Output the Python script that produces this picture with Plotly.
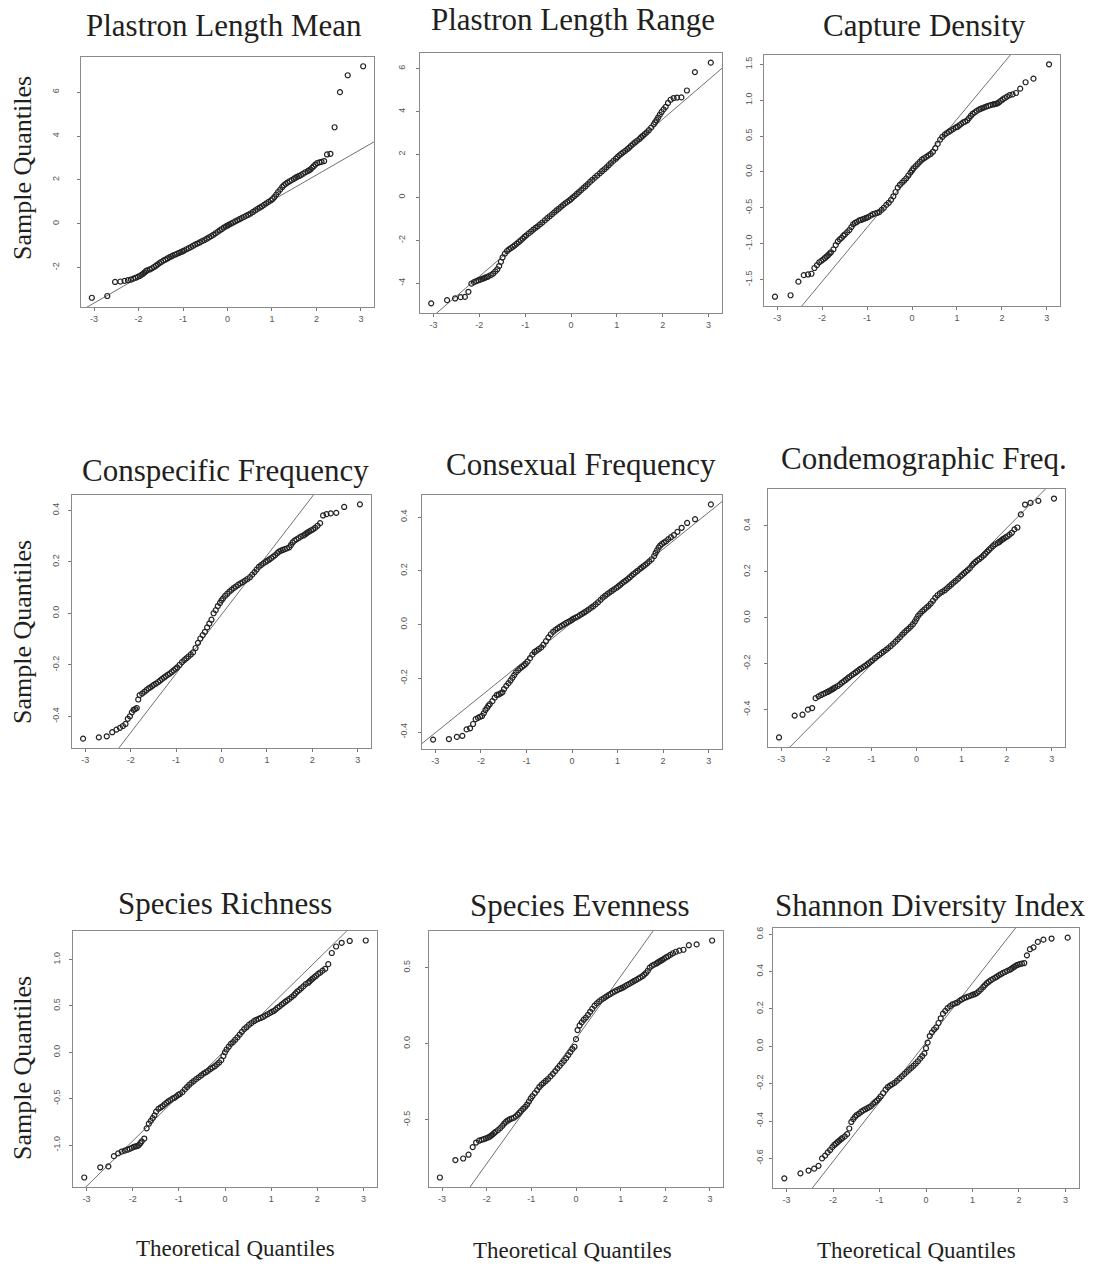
import plotly.graph_objects as go
from statistics import NormalDist
import numpy as np

# ---------------- data ----------------
N_OBS = 435
sample_ranks = [1, 2, 3, 4, 5, 6, 7, 8, 9, 10, 11, 12, 13, 14, 15, 16,
                18, 20, 22, 24, 26, 28, 30, 33, 36, 39, 42, 45, 48, 52, 56, 60, 64, 68,
                72, 78, 84, 90, 96, 102, 109, 116, 124, 132, 140, 148, 156, 164, 172, 180,
                188, 196, 204, 212,
                218,
                224, 232, 240, 248, 256, 264, 272, 280, 288, 296, 304, 312, 320, 327, 334,
                340, 346, 352, 358, 364, 368, 372, 376, 380, 384, 388, 391, 394, 397, 400,
                403, 406, 408, 410, 412, 414, 416, 418,
                420, 421, 422, 423, 424, 425, 426, 427, 428, 429, 430, 431, 432, 433, 434, 435]

panel_titles = ["Plastron Length Mean", "Plastron Length Range", "Capture Density",
                "Conspecific Frequency", "Consexual Frequency", "Condemographic Freq.",
                "Species Richness", "Species Evenness", "Shannon Diversity Index"]

plastron_length_mean = [
    -3.37, -3.29, -2.65, -2.63, -2.60, -2.57, -2.54, -2.50, -2.46, -2.42, -2.38, -2.33, -2.28, -2.22, -2.16, -2.12,
    -2.08, -2.03, -1.97, -1.91, -1.85, -1.79, -1.74, -1.68, -1.63, -1.58, -1.53, -1.49, -1.45, -1.41, -1.37, -1.33,
    -1.29, -1.26, -1.22, -1.16, -1.11, -1.06, -1.00, -0.95, -0.90, -0.85, -0.79, -0.74, -0.68, -0.62, -0.56, -0.50,
    -0.43, -0.37, -0.30, -0.24, -0.17, -0.12,
    -0.08,
    -0.04, 0.01, 0.06, 0.11, 0.16, 0.21, 0.26, 0.31, 0.36, 0.41, 0.47, 0.54, 0.61, 0.68, 0.74, 0.80,
    0.86, 0.93, 1.00, 1.07, 1.13, 1.22, 1.33, 1.45, 1.56, 1.68, 1.76, 1.82, 1.88, 1.94, 1.99, 2.05,
    2.10, 2.14, 2.18, 2.22, 2.28, 2.35,
    2.40, 2.44, 2.48, 2.55, 2.62, 2.70, 2.77, 2.80, 2.82, 2.86, 3.16, 3.19, 4.40, 6.00, 6.77, 7.18]

plastron_length_range = [
    -4.94, -4.79, -4.71, -4.65, -4.64, -4.40, -4.02, -3.95, -3.90, -3.86, -3.83, -3.80, -3.77, -3.74, -3.71, -3.68,
    -3.62, -3.55, -3.45, -3.35, -3.20, -3.00, -2.80, -2.62, -2.50, -2.42, -2.36, -2.30, -2.24, -2.16, -2.08, -2.00,
    -1.92, -1.84, -1.77, -1.68, -1.59, -1.50, -1.42, -1.35, -1.26, -1.17, -1.07, -0.97, -0.88, -0.79, -0.70, -0.61,
    -0.53, -0.44, -0.36, -0.28, -0.21, -0.14,
    -0.08,
    -0.01, 0.07, 0.16, 0.25, 0.34, 0.43, 0.52, 0.62, 0.72, 0.82, 0.92, 1.02, 1.12, 1.22, 1.31, 1.40,
    1.50, 1.60, 1.70, 1.80, 1.88, 1.96, 2.03, 2.10, 2.17, 2.25, 2.32, 2.40, 2.48, 2.56, 2.64, 2.72,
    2.80, 2.87, 2.95, 3.03, 3.13, 3.25,
    3.40, 3.50, 3.60, 3.72, 3.85, 3.98, 4.10, 4.22, 4.40, 4.55, 4.63, 4.65, 4.66, 4.98, 5.84, 6.28]

capture_density = [
    -1.74, -1.72, -1.53, -1.44, -1.43, -1.42, -1.34, -1.30, -1.26, -1.24, -1.22, -1.20, -1.18, -1.16, -1.14, -1.12,
    -1.08, -1.02, -0.97, -0.94, -0.92, -0.89, -0.87, -0.84, -0.81, -0.77, -0.73, -0.71, -0.70, -0.68, -0.67, -0.66,
    -0.65, -0.64, -0.63, -0.61, -0.59, -0.58, -0.57, -0.56, -0.53, -0.50, -0.46, -0.43, -0.39, -0.34, -0.28, -0.22,
    -0.18, -0.15, -0.12, -0.09, -0.05, -0.01,
    0.02,
    0.05, 0.08, 0.11, 0.14, 0.17, 0.19, 0.21, 0.23, 0.25, 0.28, 0.33, 0.39, 0.45, 0.49, 0.52, 0.54,
    0.56, 0.58, 0.60, 0.62, 0.63, 0.65, 0.67, 0.69, 0.70, 0.72, 0.75, 0.78, 0.81, 0.83, 0.85, 0.87,
    0.88, 0.89, 0.90, 0.91, 0.92, 0.93,
    0.94, 0.945, 0.95, 0.955, 0.97, 0.99, 1.01, 1.03, 1.05, 1.07, 1.08, 1.10, 1.16, 1.25, 1.30, 1.50]

conspecific_frequency = [
    -0.487, -0.482, -0.478, -0.462, -0.452, -0.445, -0.438, -0.430, -0.410, -0.400, -0.385, -0.375, -0.372, -0.368, -0.335, -0.318,
    -0.312, -0.305, -0.298, -0.292, -0.288, -0.283, -0.278, -0.273, -0.267, -0.261, -0.255, -0.250, -0.245, -0.239, -0.234, -0.228,
    -0.222, -0.216, -0.210, -0.200, -0.190, -0.182, -0.175, -0.168, -0.160, -0.152, -0.135, -0.115, -0.098, -0.085, -0.072, -0.055,
    -0.040, -0.025, 0.000, 0.012, 0.028, 0.040,
    0.050,
    0.058, 0.068, 0.076, 0.084, 0.091, 0.098, 0.104, 0.110, 0.116, 0.121, 0.127, 0.133, 0.140, 0.150, 0.160, 0.170,
    0.180, 0.187, 0.194, 0.200, 0.205, 0.209, 0.214, 0.220, 0.226, 0.234, 0.240, 0.243, 0.246, 0.249, 0.252, 0.256,
    0.265, 0.275, 0.282, 0.287, 0.292, 0.298,
    0.302, 0.306, 0.310, 0.314, 0.318, 0.322, 0.326, 0.332, 0.340, 0.350, 0.380, 0.385, 0.388, 0.390, 0.413, 0.423]

consexual_frequency = [
    -0.428, -0.426, -0.418, -0.414, -0.390, -0.386, -0.370, -0.352, -0.347, -0.343, -0.340, -0.330, -0.318, -0.310, -0.302, -0.296,
    -0.285, -0.272, -0.262, -0.260, -0.256, -0.252, -0.240, -0.228, -0.218, -0.208, -0.198, -0.188, -0.178, -0.170, -0.163, -0.157,
    -0.152, -0.146, -0.138, -0.125, -0.112, -0.102, -0.097, -0.091, -0.085, -0.075, -0.062, -0.048, -0.036, -0.027, -0.020, -0.014,
    -0.009, -0.004, 0.001, 0.006, 0.010, 0.014,
    0.018,
    0.022, 0.026, 0.030, 0.035, 0.040, 0.045, 0.050, 0.056, 0.062, 0.068, 0.075, 0.083, 0.092, 0.100, 0.107, 0.113,
    0.119, 0.125, 0.131, 0.137, 0.142, 0.147, 0.153, 0.159, 0.164, 0.170, 0.176, 0.182, 0.188, 0.194, 0.200, 0.207,
    0.212, 0.217, 0.222, 0.228, 0.235, 0.243,
    0.255, 0.266, 0.276, 0.286, 0.294, 0.300, 0.305, 0.310, 0.318, 0.325, 0.333, 0.345, 0.360, 0.378, 0.392, 0.447]

condemographic_frequency = [
    -0.521, -0.426, -0.422, -0.400, -0.393, -0.350, -0.342, -0.336, -0.331, -0.327, -0.323, -0.319, -0.315, -0.311, -0.307, -0.303,
    -0.297, -0.290, -0.282, -0.276, -0.270, -0.264, -0.258, -0.251, -0.244, -0.238, -0.232, -0.226, -0.221, -0.215, -0.209, -0.203,
    -0.197, -0.191, -0.185, -0.176, -0.168, -0.161, -0.154, -0.147, -0.140, -0.132, -0.123, -0.113, -0.104, -0.094, -0.084, -0.073,
    -0.064, -0.055, -0.047, -0.038, -0.028, -0.016,
    -0.004,
    0.008, 0.018, 0.028, 0.036, 0.044, 0.052, 0.062, 0.074, 0.087, 0.098, 0.106, 0.113, 0.120, 0.128, 0.137, 0.145,
    0.153, 0.161, 0.170, 0.180, 0.187, 0.194, 0.201, 0.208, 0.216, 0.228, 0.236, 0.243, 0.250, 0.256, 0.263, 0.272,
    0.279, 0.287, 0.295, 0.303, 0.312, 0.320,
    0.326, 0.330, 0.335, 0.340, 0.345, 0.350, 0.355, 0.362, 0.370, 0.385, 0.393, 0.450, 0.493, 0.500, 0.509, 0.519]

species_richness = [
    -1.35, -1.24, -1.23, -1.12, -1.09, -1.07, -1.06, -1.05, -1.04, -1.03, -1.02, -1.015, -1.01, -1.00, -0.98, -0.96,
    -0.93, -0.82, -0.77, -0.74, -0.71, -0.68, -0.64, -0.61, -0.595, -0.58, -0.56, -0.545, -0.53, -0.515, -0.50, -0.49,
    -0.475, -0.46, -0.45, -0.43, -0.40, -0.375, -0.35, -0.33, -0.31, -0.29, -0.27, -0.25, -0.23, -0.215, -0.20, -0.18,
    -0.165, -0.15, -0.13, -0.11, -0.085, -0.04,
    0.00,
    0.03, 0.06, 0.09, 0.11, 0.135, 0.16, 0.19, 0.22, 0.25, 0.27, 0.295, 0.315, 0.335, 0.35, 0.36, 0.37,
    0.38, 0.395, 0.41, 0.425, 0.435, 0.445, 0.46, 0.48, 0.495, 0.515, 0.53, 0.545, 0.56, 0.575, 0.595, 0.615,
    0.635, 0.655, 0.67, 0.69, 0.71, 0.735,
    0.75, 0.765, 0.78, 0.795, 0.81, 0.825, 0.845, 0.86, 0.88, 0.90, 0.95, 1.07, 1.14, 1.18, 1.20, 1.205]

species_evenness = [
    -0.88, -0.765, -0.755, -0.730, -0.680, -0.650, -0.638, -0.632, -0.627, -0.622, -0.618, -0.612, -0.604, -0.596, -0.588, -0.580,
    -0.568, -0.555, -0.540, -0.525, -0.513, -0.505, -0.498, -0.492, -0.487, -0.478, -0.466, -0.454, -0.442, -0.428, -0.415, -0.400,
    -0.380, -0.360, -0.345, -0.325, -0.305, -0.285, -0.270, -0.258, -0.245, -0.232, -0.215, -0.198, -0.180, -0.162, -0.145, -0.128,
    -0.112, -0.095, -0.075, -0.055, -0.035, -0.020,
    0.03,
    0.09, 0.12, 0.14, 0.158, 0.172, 0.19, 0.21, 0.23, 0.25, 0.265, 0.278, 0.29, 0.30, 0.31, 0.32, 0.328,
    0.336, 0.344, 0.352, 0.36, 0.365, 0.37, 0.378, 0.385, 0.392, 0.40, 0.407, 0.414, 0.42, 0.428, 0.436, 0.445,
    0.455, 0.465, 0.48, 0.50, 0.512, 0.52,
    0.528, 0.535, 0.54, 0.546, 0.552, 0.56, 0.568, 0.575, 0.585, 0.595, 0.605, 0.612, 0.618, 0.648, 0.653, 0.679]

shannon_diversity = [
    -0.707, -0.680, -0.665, -0.655, -0.640, -0.600, -0.585, -0.568, -0.555, -0.540, -0.528, -0.520, -0.512, -0.505, -0.498, -0.492,
    -0.482, -0.470, -0.440, -0.405, -0.390, -0.378, -0.368, -0.360, -0.350, -0.343, -0.337, -0.332, -0.327, -0.320, -0.308, -0.298,
    -0.290, -0.280, -0.268, -0.250, -0.232, -0.218, -0.210, -0.203, -0.195, -0.185, -0.172, -0.160, -0.148, -0.137, -0.126, -0.115,
    -0.104, -0.092, -0.080, -0.066, -0.052, -0.038,
    -0.010,
    0.020, 0.055, 0.075, 0.090, 0.102, 0.125, 0.150, 0.175, 0.190, 0.205, 0.215, 0.225, 0.230, 0.235, 0.245, 0.252,
    0.258, 0.263, 0.268, 0.273, 0.277, 0.280, 0.285, 0.295, 0.305, 0.318, 0.328, 0.338, 0.346, 0.354, 0.361, 0.368,
    0.374, 0.380, 0.386, 0.392, 0.398, 0.404,
    0.410, 0.415, 0.420, 0.426, 0.432, 0.436, 0.440, 0.443, 0.446, 0.487, 0.520, 0.530, 0.559, 0.571, 0.577, 0.582]

x_tick_values = [-3, -2, -1, 0, 1, 2, 3]
x_tick_labels = ["-3", "-2", "-1", "0", "1", "2", "3"]

y_tick_values = [
    [-2, 0, 2, 4, 6],
    [-4, -2, 0, 2, 4, 6],
    [-1.5, -1.0, -0.5, 0.0, 0.5, 1.0, 1.5],
    [-0.4, -0.2, 0.0, 0.2, 0.4],
    [-0.4, -0.2, 0.0, 0.2, 0.4],
    [-0.4, -0.2, 0.0, 0.2, 0.4],
    [-1.0, -0.5, 0.0, 0.5, 1.0],
    [-0.5, 0.0, 0.5],
    [-0.6, -0.4, -0.2, 0.0, 0.2, 0.4, 0.6],
]
y_tick_labels = [
    ["-2", "0", "2", "4", "6"],
    ["-4", "-2", "0", "2", "4", "6"],
    ["-1.5", "-1.0", "-0.5", "0.0", "0.5", "1.0", "1.5"],
    ["-0.4", "-0.2", "0.0", "0.2", "0.4"],
    ["-0.4", "-0.2", "0.0", "0.2", "0.4"],
    ["-0.4", "-0.2", "0.0", "0.2", "0.4"],
    ["-1.0", "-0.5", "0.0", "0.5", "1.0"],
    ["-0.5", "0.0", "0.5"],
    ["-0.6", "-0.4", "-0.2", "0.0", "0.2", "0.4", "0.6"],
]

samples = [plastron_length_mean, plastron_length_range, capture_density,
           conspecific_frequency, consexual_frequency, condemographic_frequency,
           species_richness, species_evenness, shannon_diversity]

# ---------------- layout (pixel boxes of each plot region) ----------------
W, H = 1096, 1266
boxes = [  # left, right, top, bottom in px
    (81, 374, 57, 307), (420, 722, 53, 313), (764, 1060, 55, 306),
    (72, 371, 495, 748), (422, 722, 495, 749), (768, 1065, 489, 747),
    (73, 377, 931, 1187), (429, 723, 931, 1187), (773, 1079, 928, 1188),
]
ylabel_standoff = [14, 7, 4, 5, 7, 10, 5, 11, 2]
title_pos = [(224, 25), (573, 20), (924, 25), (225, 470), (581, 465), (924, 458),
             (225, 903), (580, 906), (930, 906)]
ytitle_pos = [(22, 168), (22, 632), (22, 1068)]
xtitle_pos = [(236, 1248), (572, 1250), (916, 1250)]

theoretical = [NormalDist().inv_cdf((r - 0.5) / N_OBS) for r in sample_ranks]
q_norm = NormalDist().inv_cdf(0.75)

fig = go.Figure()
layout = dict(width=W, height=H, margin=dict(l=0, r=0, t=0, b=0),
              paper_bgcolor="white", plot_bgcolor="white", showlegend=False,
              annotations=[])

TICK_FONT = dict(family="Liberation Sans, Arial, sans-serif", size=9, color="#555555")
BOX_COLOR = "#8a8a8a"

for i, (ys, box) in enumerate(zip(samples, boxes)):
    k = "" if i == 0 else str(i + 1)
    xs = theoretical
    xmin, xmax = min(xs), max(xs)
    ymin, ymax = min(ys), max(ys)
    xr = [xmin - 0.04 * (xmax - xmin), xmax + 0.04 * (xmax - xmin)]
    yr = [ymin - 0.04 * (ymax - ymin), ymax + 0.04 * (ymax - ymin)]
    # qqline through the quartiles
    q1 = float(np.interp(-q_norm, xs, ys))
    q3 = float(np.interp(q_norm, xs, ys))
    slope = (q3 - q1) / (2 * q_norm)
    intercept = q1 + slope * q_norm
    lx = [xr[0] - 1, xr[1] + 1]
    ly = [intercept + slope * v for v in lx]

    fig.add_trace(go.Scatter(x=lx, y=ly, mode="lines", xaxis="x" + k, yaxis="y" + k,
                             line=dict(color="#707070", width=1), hoverinfo="skip"))
    fig.add_trace(go.Scatter(x=xs, y=ys, mode="markers", xaxis="x" + k, yaxis="y" + k,
                             marker=dict(symbol="circle-open", size=5, color="#222222",
                                         line=dict(width=1.2, color="#222222"))))

    l, r, t, b = box
    layout["xaxis" + k] = dict(domain=[l / W, r / W], anchor="y" + k, range=xr,
                               tickmode="array", tickvals=x_tick_values, ticktext=x_tick_labels,
                               ticks="outside", ticklen=3, tickcolor="#777777", tickwidth=1,
                               showline=True, linecolor=BOX_COLOR, linewidth=1, mirror=True,
                               showgrid=False, zeroline=False, tickfont=TICK_FONT)
    layout["yaxis" + k] = dict(domain=[1 - b / H, 1 - t / H], anchor="x" + k, range=yr,
                               tickmode="array", tickvals=y_tick_values[i], ticktext=y_tick_labels[i],
                               ticks="outside", ticklen=3, tickcolor="#777777", tickwidth=1,
                               tickangle=-90, ticklabelstandoff=ylabel_standoff[i],
                               showline=True, linecolor=BOX_COLOR, linewidth=1, mirror=True,
                               showgrid=False, zeroline=False, tickfont=TICK_FONT)

    tx, ty = title_pos[i]
    layout["annotations"].append(dict(
        text=panel_titles[i], x=tx / W, y=1 - ty / H, xref="paper", yref="paper",
        xanchor="center", yanchor="middle", showarrow=False,
        font=dict(family="Liberation Serif, Times New Roman, serif", size=31, color="#231f20")))

for (px, py) in ytitle_pos:
    layout["annotations"].append(dict(
        text="Sample Quantiles", x=px / W, y=1 - py / H, xref="paper", yref="paper",
        xanchor="center", yanchor="middle", showarrow=False, textangle=-90,
        font=dict(family="Liberation Serif, Times New Roman, serif", size=26, color="#231f20")))

for (px, py) in xtitle_pos:
    layout["annotations"].append(dict(
        text="Theoretical Quantiles", x=px / W, y=1 - py / H, xref="paper", yref="paper",
        xanchor="center", yanchor="middle", showarrow=False,
        font=dict(family="Liberation Serif, Times New Roman, serif", size=23, color="#231f20")))

fig.update_layout(**layout)
fig.write_html("out.html")
